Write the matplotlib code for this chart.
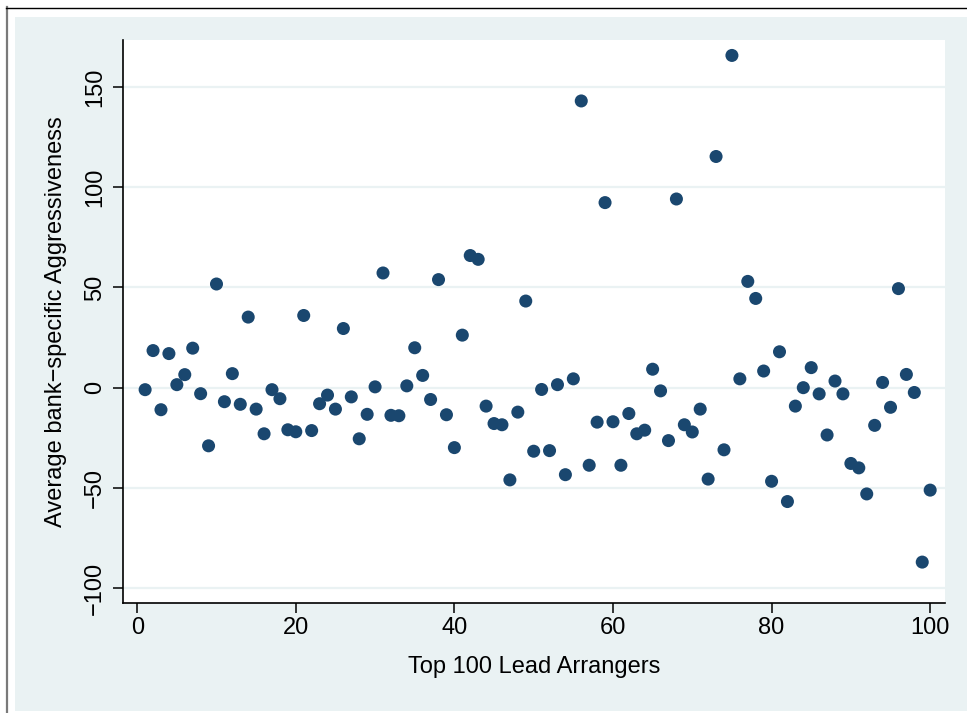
import matplotlib.pyplot as plt
from matplotlib.patches import Rectangle
from matplotlib.lines import Line2D

plt.rcParams["font.family"] = ["Liberation Sans", "DejaVu Sans"]

# rank of lead arranger and its average aggressiveness
rank = list(range(1, 101))
aggr = [
    -1, 18.5, -11, 17, 1.5, 6.5, 19.7, -3, -29, 51.7,
    -7, 7, -8.3, 35.2, -10.7, -23, -1, -5.5, -21, -22,
    36, -21.4, -8, -3.7, -10.7, 29.5, -4.6, -25.5, -13.3, 0.4,
    57.2, -13.8, -14, 0.9, 19.9, 6.1, -5.9, 53.9, -13.5, -29.9,
    26.2, 65.9, 64, -9.2, -17.9, -18.5, -46, -12.2, 43.2, -31.7,
    -0.9, -31.4, 1.5, -43.4, 4.4, 143, -38.7, -17.2, 92.3, -17,
    -38.7, -12.9, -23, -21.2, 9.2, -1.6, -26.4, 94.1, -18.5, -22.1,
    -10.7, -45.6, 115.3, -31, 165.7, 4.4, 53, 44.5, 8.3, -46.7,
    17.9, -56.8, -9.2, 0, 10, -3.1, -23.6, 3.3, -3.1, -37.8,
    -40, -53, -18.8, 2.6, -9.8, 49.4, 6.6, -2.4, -87, -51.1,
]
yticks = [-100, -50, 0, 50, 100, 150]
xticks = [0, 20, 40, 60, 80, 100]

W, H = 967, 713
fig = plt.figure(figsize=(W / 100, H / 100), dpi=100, facecolor="white")

# stata-like outer band and border
fig.add_artist(Rectangle((15 / W, 1 - 711 / H), (W - 15) / W, (711 - 17) / H,
                         transform=fig.transFigure, facecolor="#eaf2f3",
                         edgecolor="none", zorder=0))
fig.add_artist(Line2D([6.7 / W, 6.7 / W], [0, 1 - 7 / H], transform=fig.transFigure,
                      color="#7a7a7a", linewidth=1.6))
fig.add_artist(Line2D([6 / W, 1], [1 - 7.5 / H, 1 - 7.5 / H], transform=fig.transFigure,
                      color="black", linewidth=1.0))

ax = fig.add_axes([123 / W, 1 - 603 / H, (945 - 123) / W, (603 - 40) / H])
ax.set_facecolor("white")

ax.scatter(rank, aggr, s=88, color="#1a476f", edgecolors="none", zorder=3)

ax.set_xlim(-1.79, 101.87)
ax.set_ylim(-107.4, 173.4)
ax.set_xticks(xticks)
ax.set_yticks(yticks)
ax.set_yticklabels([str(t).replace("-", "\u2212") for t in yticks],
                   rotation=90, va="center")
ax.grid(axis="y", color="#eaf2f3", linewidth=1.6, zorder=0)
ax.grid(axis="x", visible=False)

for side in ["top", "right"]:
    ax.spines[side].set_visible(False)
for side in ["left", "bottom"]:
    ax.spines[side].set_linewidth(1.2)
ax.tick_params(axis="both", length=7.2, width=1.1, labelsize=17, colors="black")
ax.tick_params(axis="y", pad=5)
ax.tick_params(axis="x", pad=3)

ax.set_xlabel("Top 100 Lead Arrangers", fontsize=17, labelpad=12)
ax.set_ylabel("Average bank\u2212specific Aggressiveness", fontsize=17, labelpad=12)

fig.savefig("out.png", dpi=100, facecolor="white")
